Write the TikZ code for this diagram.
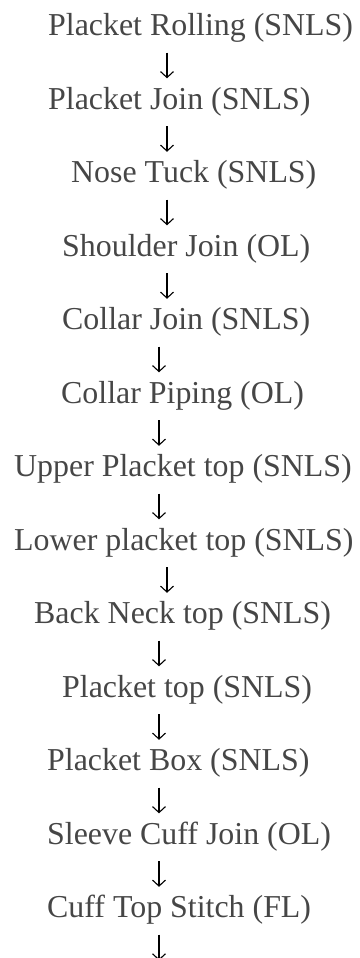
\documentclass[tikz,border=0pt]{standalone}
\usepackage{fontspec}
\setmainfont{Liberation Serif}
\usetikzlibrary{arrows.meta}

\definecolor{stepgray}{RGB}{70,70,70}

\tikzset{
  op/.style={anchor=base west, inner sep=0pt, text height=22pt, text depth=7pt,
    text=stepgray, font=\fontsize{31.9}{38}\selectfont},
  flow/.style={line width=1.1pt, -{Straight Barb[length=6pt,width=13pt,line width=1.1pt]},
    shorten <=10pt, shorten >=8.5pt}
}

\begin{document}
\begin{tikzpicture}[x=1pt, y=1pt]
    % Page frame
    \useasboundingbox (0,0) rectangle (359,-958);

    % Sewing operations, top to bottom
    \node[op] (rolling) at (48,-35.5) {Placket Rolling (SNLS)};
    \node[op] (pjoin) at (48,-109) {Placket Join (SNLS)};
    \node[op] (nosetuck) at (71,-182.5) {Nose Tuck (SNLS)};
    \node[op] (shoulder) at (62,-256) {Shoulder Join (OL)};
    \node[op] (cjoin) at (62,-329.5) {Collar Join (SNLS)};
    \node[op] (piping) at (61,-403) {Collar Piping (OL)};
    \node[op] (upper) at (14,-476.5) {Upper Placket top (SNLS)};
    \node[op] (lower) at (14,-550) {Lower placket top (SNLS)};
    \node[op] (backneck) at (34,-623.5) {Back Neck top (SNLS)};
    \node[op] (ptop) at (62,-697) {Placket top (SNLS)};
    \node[op] (pbox) at (47,-770.5) {Placket Box (SNLS)};
    \node[op] (cuffjoin) at (47,-844) {Sleeve Cuff Join (OL)};
    \node[op] (cuffstitch) at (47,-917.5) {Cuff Top Stitch (FL)};

    % Arrow columns and the open end below the last step
    \coordinate (colA) at (167,0);
    \coordinate (colB) at (159,0);
    \coordinate (tail) at (0,-969);

    % Arrows
    \foreach \a/\b/\c in {rolling/pjoin/colA, pjoin/nosetuck/colA, nosetuck/shoulder/colA,
        shoulder/cjoin/colA, cjoin/piping/colB, piping/upper/colB, upper/lower/colB,
        lower/backneck/colA, backneck/ptop/colB, ptop/pbox/colB, pbox/cuffjoin/colB,
        cuffjoin/cuffstitch/colB}
      \draw[flow] (\a.south -| \c) -- (\b.north -| \c);
    \draw[flow] (cuffstitch.south -| colB) -- (tail -| colB);
\end{tikzpicture}
\end{document}
